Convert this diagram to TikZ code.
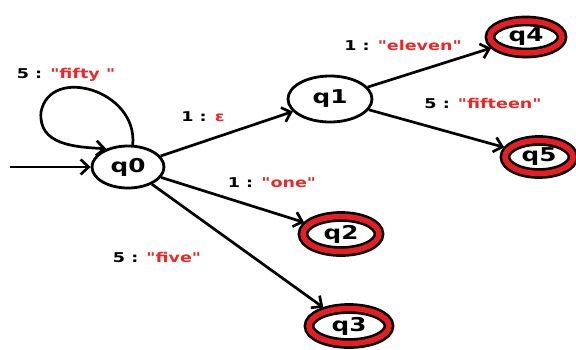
\documentclass[tikz,border=0pt]{standalone}
\usepackage{fontspec}
\setmainfont{DejaVu Sans}[Ligatures=TeXOff]
\usetikzlibrary{shapes.geometric,arrows.meta}
\definecolor{lblred}{RGB}{235,40,40}
\definecolor{ringred}{RGB}{230,30,35}
\newcommand{\wide}[1]{\scalebox{1.3}[1]{#1}}
\tikzset{
  st/.style={ellipse, draw=black, line width=2.8pt, fill=white, inner sep=0pt,
    font=\fontsize{19}{19}\selectfont\bfseries},
  acc/.style={ellipse, draw=black, line width=2.6pt, double=ringred, double distance=5.5pt,
    fill=white, inner sep=0pt, outer sep=5pt, font=\fontsize{19}{19}\selectfont\bfseries},
  tr/.style={line width=2.7pt, -{Straight Barb[length=8pt,width=15pt,line width=2.7pt]}},
  lbl/.style={font=\fontsize{13.5}{13.5}\selectfont\bfseries, inner sep=0pt}
}
\begin{document}
\begin{tikzpicture}[x=1pt,y=-1pt]
\useasboundingbox (0,0) rectangle (576,349);
\node[st, minimum width=72pt, minimum height=42pt] (q0) at (128,167) {\wide{q0}};
\node[st, minimum width=84pt, minimum height=46pt] (q1) at (330,99) {\wide{q1}};
\node[acc, minimum width=72pt, minimum height=32pt] (q4) at (526,37) {\wide{q4}};
\node[acc, minimum width=68pt, minimum height=33pt] (q5) at (539,157) {\wide{q5}};
\node[acc, minimum width=76pt, minimum height=35pt] (q2) at (341,234) {\wide{q2}};
\node[acc, minimum width=80pt, minimum height=35pt] (q3) at (349,326) {\wide{q3}};
\coordinate (init) at (10,167);
\draw[tr] (init) -- (q0);
\draw[tr] (q0.78) .. controls (138,90) and (50,65) .. (41,112) .. controls (38,145) and (75,147) .. (q0.140);
\draw[tr] (q0) -- (q1);
\draw[tr] (q1) -- (q4);
\draw[tr] (q1) -- (q5);
\draw[tr] (q0) -- (q2);
\draw[tr] (q0) -- (q3);
\node[lbl] (l0) at (66,75) {\wide{5 : \textcolor{lblred}{"fifty "}}};
\node[lbl] (l1) at (203,117) {\wide{1 : \textcolor{lblred}{ε}}};
\node[lbl] (l4) at (403,45) {\wide{1 : \textcolor{lblred}{"eleven"}}};
\node[lbl] (l5) at (483,103) {\wide{5 : \textcolor{lblred}{"fifteen"}}};
\node[lbl] (l2) at (272,183) {\wide{1 : \textcolor{lblred}{"one"}}};
\node[lbl] (l3) at (157,257) {\wide{5 : \textcolor{lblred}{"five"}}};
\end{tikzpicture}
\end{document}
